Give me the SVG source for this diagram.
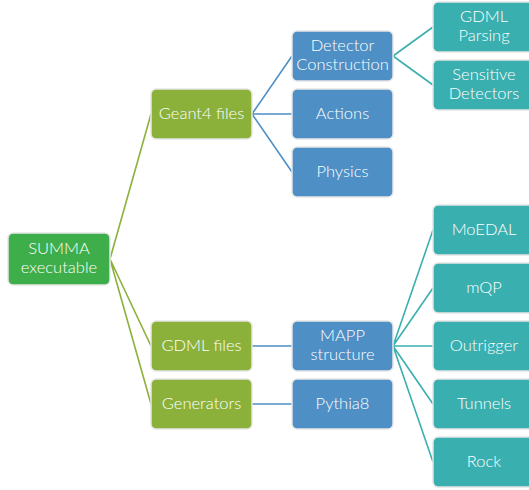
<svg xmlns="http://www.w3.org/2000/svg" width="529" height="490" viewBox="0 0 529 490">
<style>
.n rect{stroke:#e6e6e6;stroke-width:1.5}
.g1 rect{fill:#3eae4a}
.g2 rect{fill:#8bb13b}
.b rect{fill:#4e8fc5}
.t rect{fill:#3aafb0}
text{font-family:Lato,"Open Sans","DejaVu Sans",sans-serif;font-size:16.5px;font-weight:300;fill:#ffffff;text-anchor:middle;dominant-baseline:central}
.c path{fill:none;stroke-width:1.6}
.cg{stroke:#8bb13b}
.cb{stroke:#4e8fc5}
.ct{stroke:#3aafb0}
</style>
<rect width="529" height="490" fill="#ffffff"/>
<g class="c" id="connectors">
<path class="cg" d="M110,259 L151,114 M110,259 L151,346 M110,259 L151,404"/>
<path class="cb" d="M252,114 L292,56 M252,114 L292,114 M252,114 L292,172 M252,346 L292,346 M252,404 L292,404"/>
<path class="ct" d="M393,56 L433,27 M393,56 L433,85 M393,346 L433,230 M393,346 L433,288 M393,346 L433,346 M393,346 L433,404 M393,346 L433,462"/>
</g>
<g class="n g1" id="summa"><rect x="8" y="233" width="102" height="52" rx="5"/><text x="59" y="247.5">SUMMA</text><text x="59" y="266.5">executable</text></g>
<g class="n g2" id="geant4"><rect x="151" y="89" width="101" height="50" rx="5"/><text x="201.5" y="112.5">Geant4 files</text></g>
<g class="n g2" id="gdmlfiles"><rect x="151" y="321" width="101" height="50" rx="5"/><text x="201.5" y="344.5">GDML files</text></g>
<g class="n g2" id="generators"><rect x="151" y="379" width="101" height="50" rx="5"/><text x="201.5" y="402.5">Generators</text></g>
<g class="n b" id="detector"><rect x="292" y="31" width="101" height="50" rx="5"/><text x="342.5" y="45">Detector</text><text x="342.5" y="64">Construction</text></g>
<g class="n b" id="actions"><rect x="292" y="89" width="101" height="50" rx="5"/><text x="342.5" y="112.5">Actions</text></g>
<g class="n b" id="physics"><rect x="292" y="147" width="101" height="50" rx="5"/><text x="342.5" y="170.5">Physics</text></g>
<g class="n b" id="mapp"><rect x="292" y="321" width="101" height="50" rx="5"/><text x="342.5" y="335">MAPP</text><text x="342.5" y="354">structure</text></g>
<g class="n b" id="pythia"><rect x="292" y="379" width="101" height="50" rx="5"/><text x="342.5" y="402.5">Pythia8</text></g>
<g class="n t" id="gdmlparsing"><rect x="433" y="2" width="101" height="50" rx="5"/><text x="484" y="16">GDML</text><text x="484" y="35">Parsing</text></g>
<g class="n t" id="sensitive"><rect x="433" y="60" width="101" height="50" rx="5"/><text x="484" y="74">Sensitive</text><text x="484" y="93">Detectors</text></g>
<g class="n t" id="moedal"><rect x="433" y="205" width="101" height="50" rx="5"/><text x="484" y="228.5">MoEDAL</text></g>
<g class="n t" id="mqp"><rect x="433" y="263" width="101" height="50" rx="5"/><text x="484" y="286.5">mQP</text></g>
<g class="n t" id="outrigger"><rect x="433" y="321" width="101" height="50" rx="5"/><text x="484" y="344.5">Outrigger</text></g>
<g class="n t" id="tunnels"><rect x="433" y="379" width="101" height="50" rx="5"/><text x="484" y="402.5">Tunnels</text></g>
<g class="n t" id="rock"><rect x="433" y="437" width="101" height="50" rx="5"/><text x="484" y="460.5">Rock</text></g>
</svg>
